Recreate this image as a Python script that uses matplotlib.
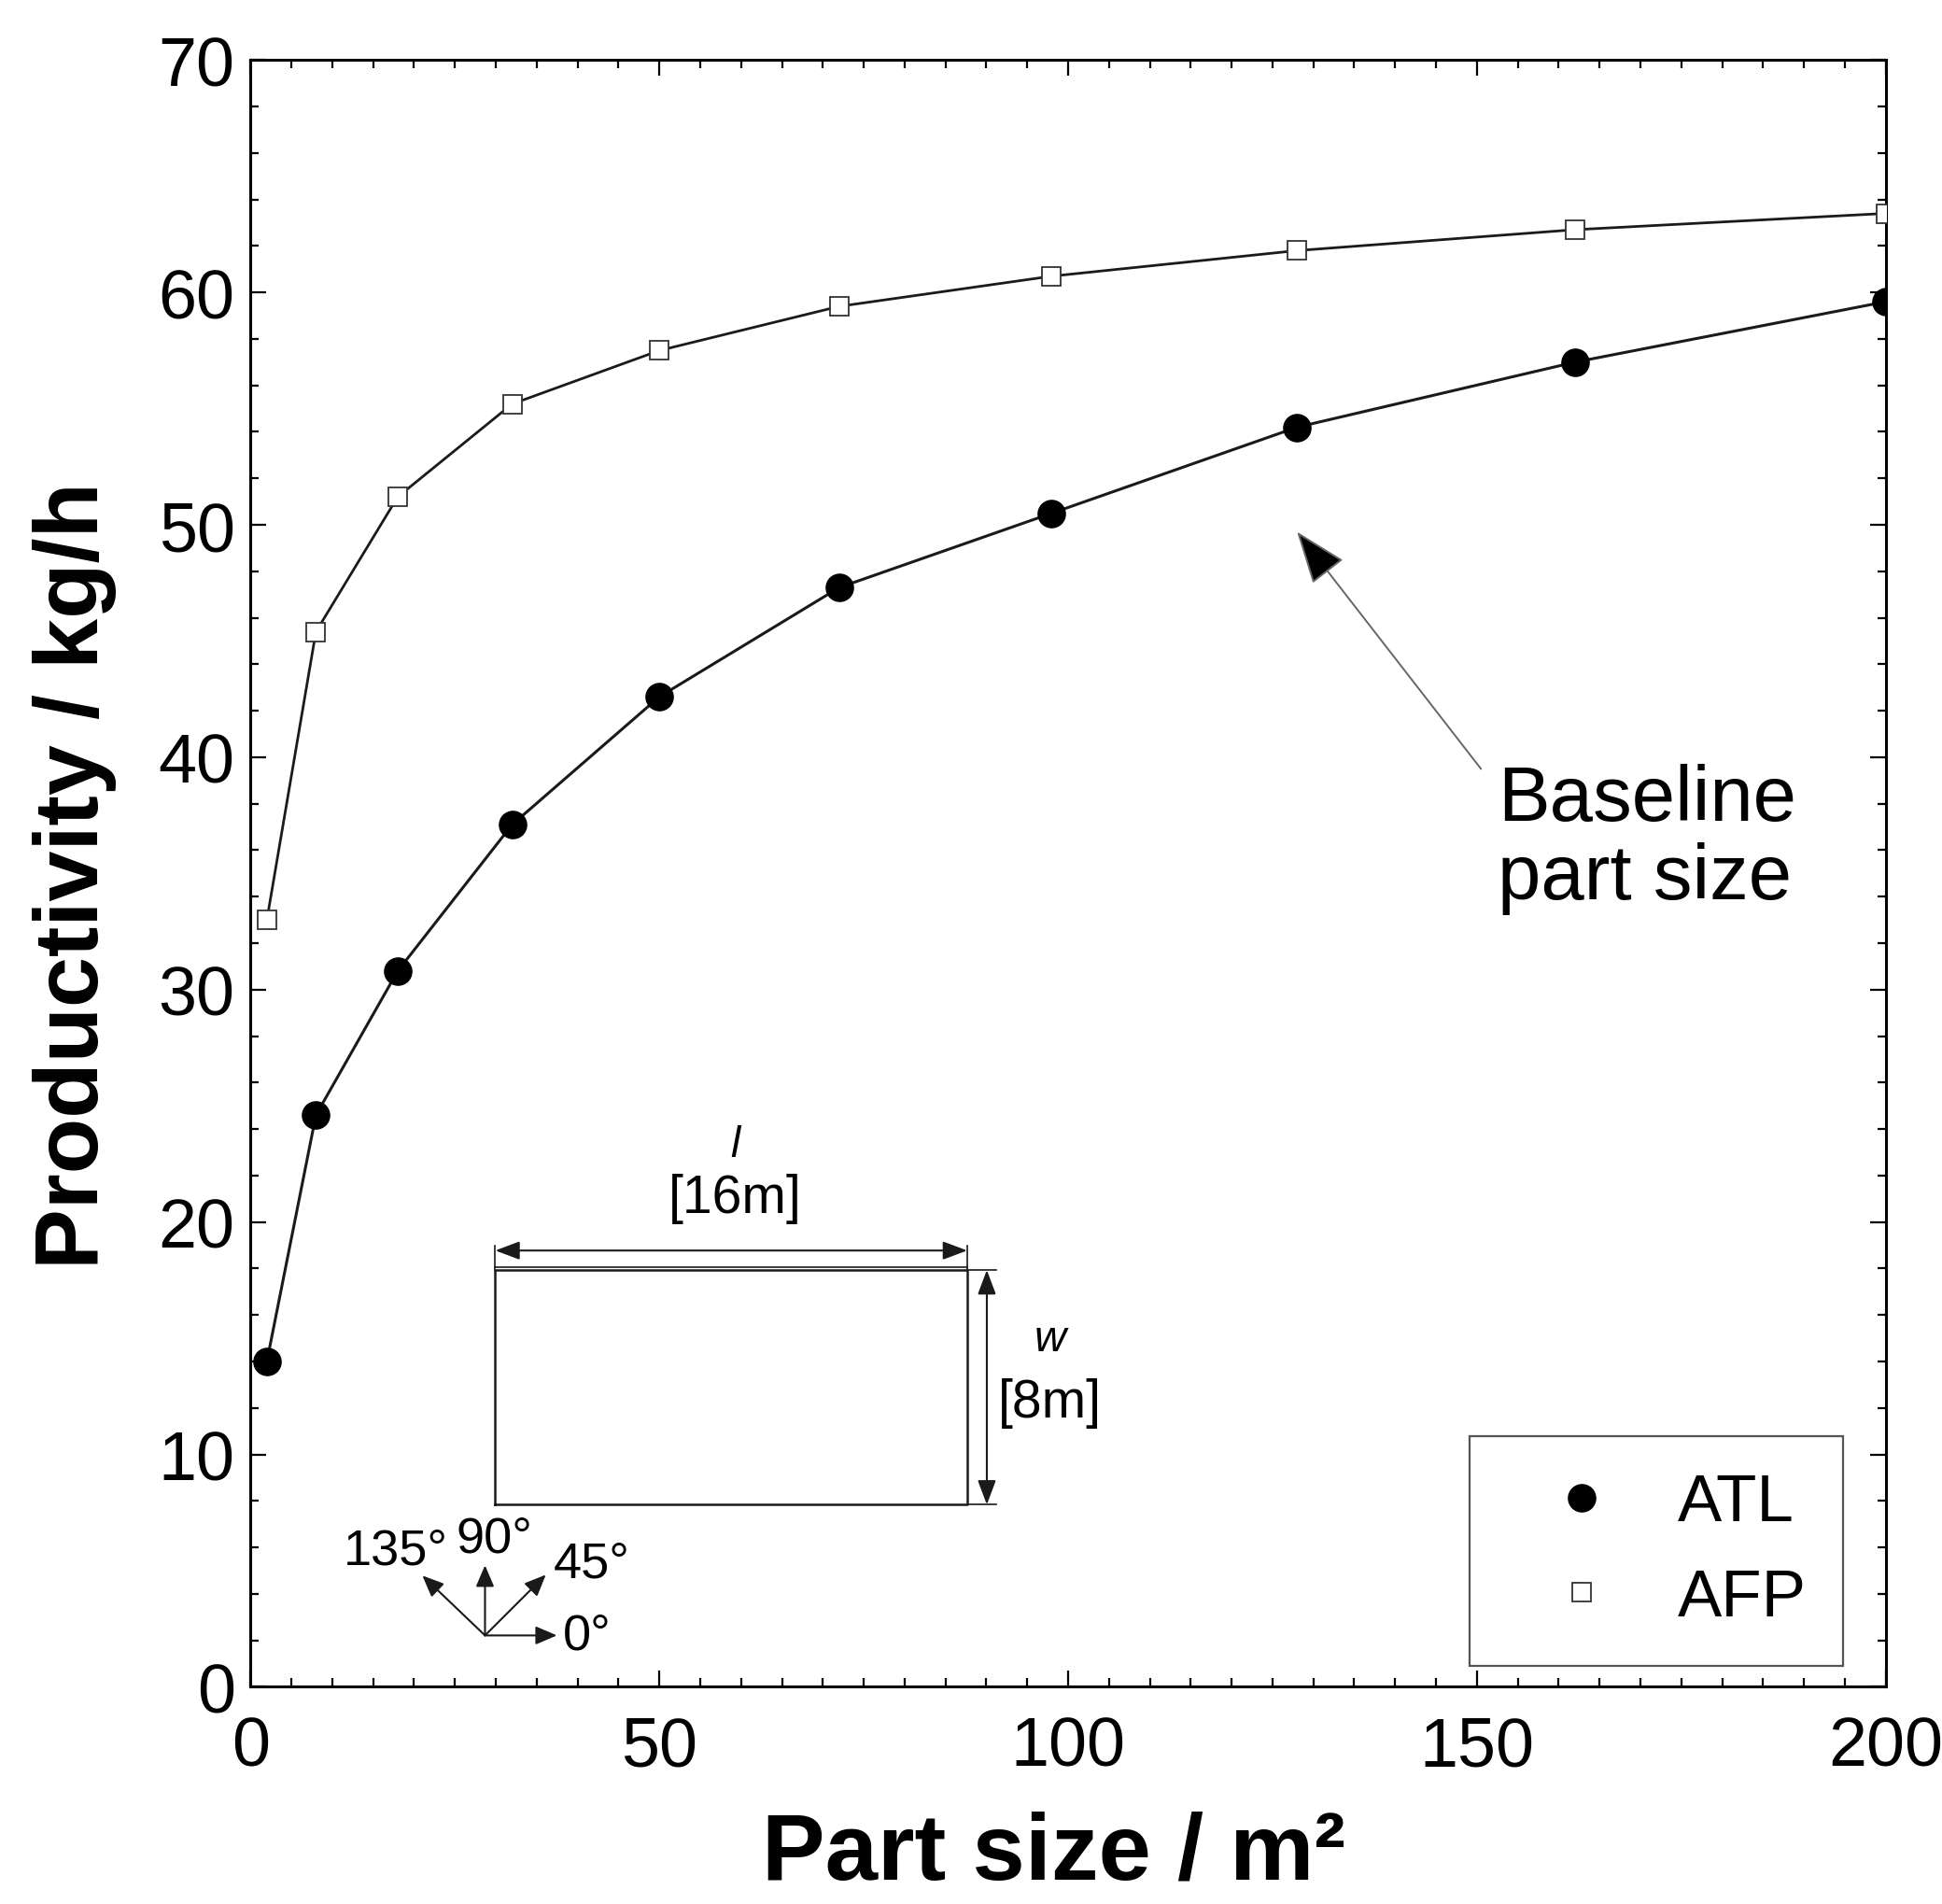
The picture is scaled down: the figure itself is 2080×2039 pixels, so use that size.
import matplotlib
matplotlib.use("Agg")
import matplotlib.pyplot as plt
from matplotlib.ticker import MultipleLocator

plt.rcParams["font.family"] = ["Liberation Sans", "DejaVu Sans"]

# data
part_size = [2, 8, 18, 32, 50, 72, 98, 128, 162, 200]
atl = [14.0, 24.6, 30.8, 37.1, 42.6, 47.3, 50.5, 54.2, 57.0, 59.6]
afp = [33.0, 45.4, 51.2, 55.2, 57.5, 59.4, 60.7, 61.8, 62.7, 63.4]
baseline_size = 128
baseline_atl = 49.7

fig = plt.figure(figsize=(20.8, 20.4), dpi=100)
ax = fig.add_axes([0.129, 0.114, 0.842, 0.854])

# curves
ax.plot(part_size, atl, "-", color="#1a1a1a", lw=2.2, zorder=2)
ax.plot(part_size, afp, "-", color="#1a1a1a", lw=2.0, zorder=2)
ax.plot(part_size, atl, "o", color="black", ms=21, label="ATL", zorder=3)
ax.plot(part_size, afp, "s", mfc="white", mec="#333333", mew=1.3, ms=15,
        label="AFP", zorder=3)

ax.set_xlim(0, 200)
ax.set_ylim(0, 70)
ax.xaxis.set_major_locator(MultipleLocator(50))
ax.xaxis.set_minor_locator(MultipleLocator(5))
ax.yaxis.set_major_locator(MultipleLocator(10))
ax.yaxis.set_minor_locator(MultipleLocator(2))
ax.tick_params(which="both", direction="in", top=True, right=True,
               width=1.6, color="black")
ax.tick_params(which="major", length=12, labelsize=53)
ax.tick_params(axis="x", which="major", pad=22)
ax.tick_params(axis="y", which="major", pad=12)
ax.tick_params(which="minor", length=6.5)
for s in ax.spines.values():
    s.set_linewidth(2.2)

ax.set_xlabel("Part size / m²", fontsize=73, fontweight="bold")
ax.set_ylabel("Productivity / kg/h", fontsize=70, fontweight="bold")
ax.xaxis.set_label_coords(0.491, -0.076)
ax.yaxis.set_label_coords(-0.082, 0.499)

# baseline annotation
ax.annotate("", xy=(baseline_size, baseline_atl), xytext=(150.5, 39.5),
            arrowprops=dict(arrowstyle="-|>,head_length=1.2,head_width=0.45",
                            mutation_scale=30, lw=1.4, ec="#666666",
                            fc="black", shrinkA=0, shrinkB=0))
ax.text(152.5, 36.5, "Baseline\npart size", fontsize=60, ha="left",
        va="center", linespacing=1.1)

# legend
ax.legend(loc="lower right", bbox_to_anchor=(0.974, 0.013), borderaxespad=0,
          fontsize=51, frameon=True, fancybox=False, edgecolor="#555555",
          framealpha=1, handlelength=2.3, handletextpad=0.3, borderpad=0.55,
          labelspacing=0.5, numpoints=1)
ax.get_legend().get_frame().set_linewidth(1.6)

# inset sketch of the part (axes coordinates)
T = ax.transAxes
L, R, B, Tp = 0.1497, 0.4383, 0.1120, 0.2562
k = dict(transform=T, color="#1a1a1a", clip_on=False)
ax.plot([L, R, R, L, L], [B, B, Tp, Tp, B], lw=1.8, **k)
ax.plot([L, R], [Tp + 0.002, Tp + 0.002], lw=1.2, **k)
ax.plot([L, L], [Tp, 0.271], lw=1.2, **k)
ax.plot([R, R], [Tp, 0.271], lw=1.2, **k)
ax.plot([R, 0.456], [Tp, Tp], lw=1.2, **k)
ax.plot([R, 0.456], [B, B], lw=1.2, **k)
dim = dict(arrowstyle="<|-|>,head_length=0.8,head_width=0.3",
           mutation_scale=20, lw=1.5, color="#1a1a1a", shrinkA=0, shrinkB=0)
ax.annotate("", xy=(L, 0.2682), xytext=(R, 0.2682), xycoords=T,
            textcoords=T, arrowprops=dim)
ax.annotate("", xy=(0.4503, Tp), xytext=(0.4503, B), xycoords=T,
            textcoords=T, arrowprops=dim)
ax.text(0.2966, 0.3331, "l", transform=T, fontsize=33, style="italic",
        ha="center", va="center")
ax.text(0.2966, 0.3004, "[16m]", transform=T, fontsize=41, ha="center",
        va="center")
ax.text(0.489, 0.2137, "w", transform=T, fontsize=34, style="italic",
        ha="center", va="center")
ax.text(0.4886, 0.1746, "[8m]", transform=T, fontsize=41, ha="center",
        va="center")

# ply orientation sketch
ox, oy = 0.1434, 0.0316
ori = dict(arrowstyle="-|>,head_length=0.7,head_width=0.3", mutation_scale=20,
           lw=1.5, color="#1a1a1a", shrinkA=0, shrinkB=0)
for tip in [(0.1874, 0.0316), (0.1806, 0.0689), (0.1434, 0.0747),
            (0.1051, 0.0684)]:
    ax.annotate("", xy=tip, xytext=(ox, oy), xycoords=T, textcoords=T,
                arrowprops=ori)
ax.text(0.1909, 0.0316, "0°", transform=T, fontsize=39, ha="left",
        va="center")
ax.text(0.1851, 0.0758, "45°", transform=T, fontsize=39, ha="left",
        va="center")
ax.text(0.1491, 0.0913, "90°", transform=T, fontsize=39, ha="center",
        va="center")
ax.text(0.1206, 0.0839, "135°", transform=T, fontsize=39, ha="right",
        va="center")

fig.savefig("out.png", dpi=100, facecolor="white")
